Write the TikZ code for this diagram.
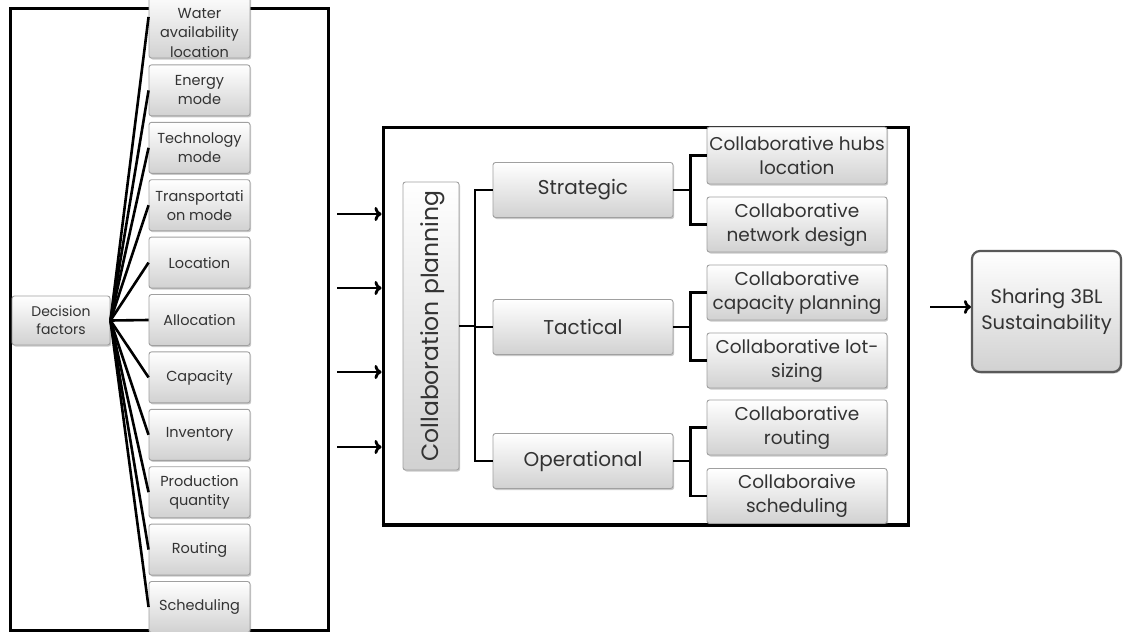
\documentclass[tikz,border=0pt]{standalone}
\usepackage{fontspec}
\setmainfont{Poppins}
\usetikzlibrary{arrows.meta,shadows,calc}
\definecolor{txt}{HTML}{333333}
\definecolor{bord}{HTML}{A0A0A0}
\tikzset{
  gbox/.style={draw=bord, line width=0.9pt, rounded corners=2.5pt, top color=white, bottom color=black!18,
    drop shadow={shadow xshift=1.2pt, shadow yshift=-1.5pt, opacity=0.35, fill=black!60},
    inner sep=0pt, text=txt, align=center},
  lbox/.style={gbox, minimum width=101pt, minimum height=51pt, font=\fontsize{14.5}{19}\selectfont},
  mbox/.style={gbox, minimum width=180pt, minimum height=55pt, font=\fontsize{20}{25}\selectfont},
  rbox/.style={gbox, minimum width=180pt, minimum height=55pt, font=\fontsize{18.5}{24}\selectfont},
  frame/.style={draw=black, line width=3pt},
  conn/.style={draw=black, line width=2.6pt},
  arr/.style={draw=black, line width=2.8pt, -{To[length=7pt,width=14pt,line width=2.8pt]}},
  ttext/.style={text=txt, align=center, inner sep=0pt}
}
\begin{document}
\begin{tikzpicture}[x=1pt,y=-1pt]
\useasboundingbox (0,0) rectangle (1125,632);
\clip (0,0) rectangle (1125,632);
% frames
\draw[frame] (10,8) rectangle (328,630);
\node[frame, minimum width=525pt, minimum height=397pt, inner sep=0pt] (mid) at (645.5,325.5) {};
% decision factors
\node[lbox, minimum width=98pt, minimum height=49pt, font=\fontsize{14}{18}\selectfont] (df) at (61,320.5) {Decision\\factors};
% left column
\node[lbox, minimum height=66pt] (l1) at (199.5,25) {};
\node[ttext, font=\fontsize{14.5}{19.5}\selectfont] (l1t) at (199.5,33) {Water\\availability\\location};
\node[lbox] (l2) at (199.5,90.4) {Energy\\mode};
\node[lbox] (l3) at (199.5,147.8) {Technology\\mode};
\node[lbox] (l4) at (199.5,205.2) {Transportati\\on mode};
\node[lbox] (l5) at (199.5,262.6) {Location};
\node[lbox] (l6) at (199.5,320) {Allocation};
\node[lbox] (l7) at (199.5,377.4) {Capacity};
\node[lbox] (l8) at (199.5,434.8) {Inventory};
\node[lbox] (l9) at (199.5,492.2) {Production\\quantity};
\node[lbox] (l10) at (199.5,549.6) {Routing};
\node[lbox] (l11) at (199.5,607) {Scheduling};
\draw[conn] (df.east) -- ([yshift=8pt]l1.west);
\foreach \i in {2,...,11} { \draw[conn] (df.east) -- (l\i.west); }
% arrows into middle frame
\foreach \y/\n in {214/a1,288/a2,372/a3,447/a4} {
  \coordinate (\n) at (337,\y);
  \draw[arr] (\n) -- (\n -| mid.west);
}
% collaboration planning
\node[gbox, minimum width=56pt, minimum height=288pt] (cp) at (431,326) {};
\node[ttext, rotate=90, font=\fontsize{23.5}{28}\selectfont] at (433,326) {Collaboration planning};
% middle level
\node[mbox] (st) at (583,190) {Strategic};
\node[mbox] (ta) at (583,327) {Tactical};
\node[mbox] (op) at (583,461) {Operational};
\coordinate (bus) at (475,326);
\draw[conn] (cp.east |- bus) -- (bus);
\draw[conn] (st.west) -- (st.west -| bus) -- (op.west -| bus) -- (op.west);
\draw[conn] (ta.west -| bus) -- (ta.west);
% right level
\node[rbox, minimum height=57pt] (r1) at (797,155.5) {Collaborative hubs\\location};
\node[rbox] (r2) at (797,224.5) {Collaborative\\network design};
\node[rbox] (r3) at (797,292.5) {Collaborative\\capacity planning};
\node[rbox] (r4) at (797,360.5) {Collaborative lot-\\sizing};
\node[rbox] (r5) at (797,427.5) {Collaborative\\routing};
\node[rbox] (r6) at (797,496) {Collaboraive\\scheduling};
\foreach \p/\a/\b in {st/r1/r2, ta/r3/r4, op/r5/r6} {
  \coordinate (j\p) at ($(\p.east)+(17,0)$);
  \draw[conn] (\p.east) -- (j\p);
  \draw[conn] (\a.west) -- (\a.west -| j\p) -- (\b.west -| j\p) -- (\b.west);
}
\draw[line width=3pt] (mid.south west) -- (mid.south east);
% sharing
\node[gbox, draw=black!65, line width=2.2pt, rounded corners=8pt, minimum width=149pt, minimum height=121pt,
  font=\fontsize{19.5}{26}\selectfont] (sh) at (1046.5,311.5) {Sharing 3BL\\Sustainability};
\coordinate (s0) at (930,307);
\draw[arr] (s0) -- (s0 -| sh.west);
\end{tikzpicture}
\end{document}
